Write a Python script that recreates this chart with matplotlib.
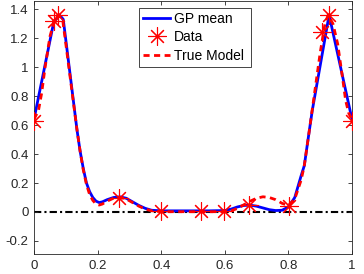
import matplotlib
matplotlib.use("Agg")
import matplotlib.pyplot as plt

plt.rcParams['font.family'] = ['Liberation Sans', 'DejaVu Sans']

# === DATA ===
gp_x = [0.0, 0.062, 0.08, 0.092, 0.135, 0.145, 0.155, 0.165, 0.175, 0.185, 0.195,
        0.205, 0.215, 0.23, 0.25, 0.27, 0.29, 0.31, 0.33, 0.35, 0.37, 0.40, 0.45,
        0.50, 0.55, 0.60, 0.62, 0.64, 0.66, 0.68, 0.70, 0.72, 0.74, 0.76, 0.78,
        0.80, 0.82, 0.84, 0.85, 0.865, 0.875, 0.928, 1.0]
gp_y = [0.64, 1.31, 1.36, 1.33, 0.57, 0.42, 0.30, 0.20, 0.14, 0.10, 0.075,
        0.065, 0.07, 0.085, 0.10, 0.105, 0.095, 0.07, 0.045, 0.025, 0.012, 0.008, 0.008,
        0.008, 0.008, 0.01, 0.02, 0.035, 0.045, 0.047, 0.04, 0.028, 0.016, 0.01, 0.012,
        0.035, 0.10, 0.25, 0.32, 0.55, 0.70, 1.36, 0.64]

true_x = [0.0, 0.014, 0.024, 0.035, 0.05, 0.066, 0.077, 0.09, 0.135, 0.145, 0.155,
          0.165, 0.175, 0.185, 0.195, 0.205, 0.215, 0.23, 0.25, 0.27, 0.29, 0.31,
          0.33, 0.35, 0.37, 0.40, 0.60, 0.62, 0.64, 0.66, 0.68, 0.70, 0.72, 0.74,
          0.76, 0.78, 0.80, 0.82, 0.84, 0.85, 0.865, 0.90, 0.915, 0.925, 0.94,
          0.955, 0.97, 0.98, 0.99, 1.0]
true_y = [0.64, 0.70, 0.82, 1.00, 1.21, 1.34, 1.36, 1.33, 0.57, 0.42, 0.29,
          0.19, 0.12, 0.08, 0.055, 0.048, 0.055, 0.075, 0.095, 0.10, 0.09, 0.065,
          0.04, 0.02, 0.008, 0.002, 0.002, 0.008, 0.025, 0.05, 0.075, 0.095, 0.105, 0.10,
          0.085, 0.06, 0.045, 0.09, 0.22, 0.32, 0.55, 1.10, 1.30, 1.36, 1.30,
          1.16, 0.93, 0.77, 0.68, 0.64]

data_x = [0.0, 0.064, 0.075, 0.268, 0.40, 0.525, 0.598, 0.677, 0.803, 0.906, 0.927, 1.0]
data_y = [0.63, 1.32, 1.36, 0.10, 0.01, 0.01, 0.01, 0.046, 0.04, 1.24, 1.36, 0.63]

xticks = [0, 0.2, 0.4, 0.6, 0.8, 1]
xticklabels = ["0", "0.2", "0.4", "0.6", "0.8", "1"]
yticks = [-0.2, 0, 0.2, 0.4, 0.6, 0.8, 1.0, 1.2, 1.4]
yticklabels = ["-0.2", "0", "0.2", "0.4", "0.6", "0.8", "1", "1.2", "1.4"]

# === PLOT ===
fig = plt.figure(figsize=(3.64, 2.74), dpi=100)
ax = fig.add_axes([34 / 364, 20 / 274, 318 / 364, 253.5 / 274])

ax.axhline(0, color='k', linestyle='-.', linewidth=1.5, dashes=(3.5, 1.5, 1, 1.5), zorder=1)
ax.plot(gp_x, gp_y, color='b', linewidth=2, label='GP mean', zorder=2)
ax.plot(data_x, data_y, linestyle='none', marker=(8, 2, 0), markersize=13,
        markeredgewidth=0.8, color='r', label='Data', zorder=3)
ax.plot(true_x, true_y, color='r', linewidth=2, linestyle='--', dashes=(2.2, 1.6),
        label='True Model', zorder=4)

ax.set_xlim(0, 1)
ax.set_ylim(-0.29, 1.46)
ax.set_xticks(xticks)
ax.set_xticklabels(xticklabels)
ax.set_yticks(yticks)
ax.set_yticklabels(yticklabels)
ax.tick_params(direction='in', top=True, right=True, length=3, width=0.6,
               labelsize=9.5, colors='#262626', pad=4)
for s in ax.spines.values():
    s.set_linewidth(0.6)
    s.set_color('#262626')

# legend box stretched to the reference width (extra room goes to the right)
leg = ax.legend(loc='upper left', mode='expand',
                bbox_to_anchor=(139 / 364, 1 - 60 / 274, 112 / 364, 52 / 274),
                bbox_transform=fig.transFigure, fontsize=10, frameon=True,
                fancybox=False, framealpha=1, edgecolor='#262626',
                handlelength=1.95, handletextpad=0.25, labelspacing=0.3,
                borderpad=0.3, borderaxespad=0)
leg.get_frame().set_linewidth(0.6)

fig.savefig("out.png", dpi=100)
